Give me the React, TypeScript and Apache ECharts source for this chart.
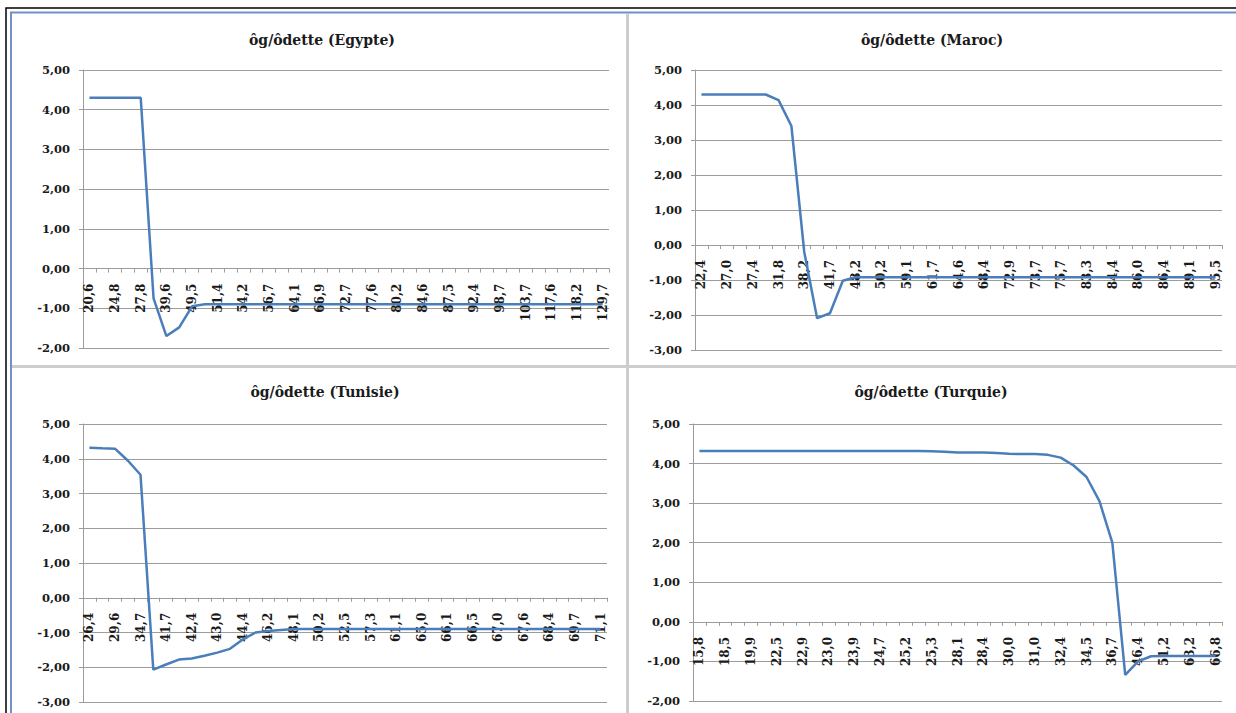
import React, { useEffect, useRef } from "react";
import * as echarts from "echarts";

// ---------- DATA ----------
const titles = [
  "ôg/ôdette (Egypte)",
  "ôg/ôdette (Maroc)",
  "ôg/ôdette (Tunisie)",
  "ôg/ôdette (Turquie)",
];

const egypteCats = [
  "20,6", "22,1", "24,8", "26,0", "27,8", "33,5", "39,6", "44,2", "49,5", "50,3",
  "51,4", "52,9", "54,2", "55,1", "56,7", "60,4", "64,1", "65,2", "66,9", "69,8",
  "72,7", "75,0", "77,6", "78,9", "80,2", "82,3", "84,6", "86,0", "87,5", "90,1",
  "92,4", "95,3", "98,7", "101,2", "103,7", "110,4", "117,6", "117,9", "118,2", "124,0",
  "129,7",
];
const egypteValues = [
  4.3, 4.3, 4.3, 4.3, 4.3, -0.75, -1.7, -1.48, -0.95, -0.9,
  -0.9, -0.9, -0.9, -0.9, -0.9, -0.9, -0.9, -0.9, -0.9, -0.9,
  -0.9, -0.9, -0.9, -0.9, -0.9, -0.9, -0.9, -0.9, -0.9, -0.9,
  -0.9, -0.9, -0.9, -0.9, -0.9, -0.9, -0.9, -0.9, -0.9, -0.9,
  -0.9,
];

const marocCats = [
  "22,4", "24,9", "27,0", "27,2", "27,4", "29,6", "31,8", "35,1", "38,2", "40,0",
  "41,7", "45,0", "48,2", "49,1", "50,2", "54,6", "59,1", "60,5", "61,7", "63,2",
  "64,6", "66,5", "68,4", "70,8", "72,9", "73,3", "73,7", "74,6", "75,7", "79,4",
  "83,3", "83,8", "84,4", "85,2", "86,0", "86,2", "86,4", "87,7", "89,1", "92,3",
  "95,5",
];
const marocValues = [
  4.3, 4.3, 4.3, 4.3, 4.3, 4.3, 4.14, 3.4, -0.2, -2.09,
  -1.95, -1.02, -0.92, -0.92, -0.92, -0.92, -0.92, -0.92, -0.92, -0.92,
  -0.92, -0.92, -0.92, -0.92, -0.92, -0.92, -0.92, -0.92, -0.92, -0.92,
  -0.92, -0.92, -0.92, -0.92, -0.92, -0.92, -0.92, -0.92, -0.92, -0.92,
  -0.92,
];

const tunisieCats = [
  "26,4", "28,0", "29,6", "32,2", "34,7", "38,3", "41,7", "42,0", "42,4", "42,7",
  "43,0", "43,7", "44,4", "45,3", "46,2", "47,1", "48,1", "49,1", "50,2", "51,4",
  "52,5", "54,9", "57,3", "59,2", "61,1", "63,0", "65,0", "65,6", "66,1", "66,3",
  "66,5", "66,8", "67,0", "67,3", "67,6", "68,0", "68,4", "69,0", "69,7", "70,4",
  "71,1",
];
const tunisieValues = [
  4.32, 4.3, 4.29, 3.95, 3.54, -2.07, -1.92, -1.78, -1.75, -1.67,
  -1.58, -1.47, -1.2, -1.0, -0.96, -0.93, -0.9, -0.9, -0.9, -0.9,
  -0.9, -0.9, -0.9, -0.9, -0.9, -0.9, -0.9, -0.9, -0.9, -0.9,
  -0.9, -0.9, -0.9, -0.9, -0.9, -0.9, -0.9, -0.9, -0.9, -0.9,
  -0.9,
];

const turquieCats = [
  "15,8", "17,1", "18,5", "19,2", "19,9", "21,2", "22,5", "22,7", "22,9", "22,95",
  "23,0", "23,4", "23,9", "24,3", "24,7", "25,0", "25,2", "25,25", "25,3", "26,7",
  "28,1", "28,3", "28,4", "29,2", "30,0", "30,5", "31,0", "31,7", "32,4", "33,4",
  "34,5", "35,6", "36,7", "41,5", "46,4", "48,8", "51,2", "57,2", "63,2", "65,0",
  "66,8",
];
const turquieValues = [
  4.32, 4.32, 4.32, 4.32, 4.32, 4.32, 4.32, 4.32, 4.32, 4.32,
  4.32, 4.32, 4.32, 4.32, 4.32, 4.32, 4.32, 4.32, 4.31, 4.3,
  4.28, 4.28, 4.28, 4.27, 4.25, 4.24, 4.24, 4.22, 4.15, 3.95,
  3.66, 3.05, 2.0, -1.34, -1.0, -0.87, -0.86, -0.86, -0.86, -0.86,
  -0.86,
];

const yMins = [-2, -3, -3, -2];
const yMaxs = [5, 5, 5, 5];

const allCats = [egypteCats, marocCats, tunisieCats, turquieCats];
const allValues = [egypteValues, marocValues, tunisieValues, turquieValues];

// ---------- LAYOUT / STYLE ----------
const grids = [
  { left: 83, top: 70, width: 526, height: 278 },
  { left: 695, top: 70, width: 527, height: 280 },
  { left: 83, top: 424, width: 524, height: 278 },
  { left: 693, top: 424, width: 529, height: 277 },
];
const titlePos = [
  [322, 40],
  [932, 40],
  [325, 392],
  [931, 392],
];

const FONT = '"DejaVu Serif", "Liberation Serif", serif';
const LINE_COLOR = "#4a7ebb";
const GRID_COLOR = "#9c9c9c";
const AXIS_COLOR = "#9c9c9c";
const TEXT_COLOR = "#1a1a1a";

function buildOption() {
  const xAxis = allCats.map((cats, i) => {
    const g = grids[i];
    const zeroFromBottom = ((0 - yMins[i]) / (yMaxs[i] - yMins[i])) * g.height;
    return {
      type: "category",
      gridIndex: i,
      position: "bottom",
      offset: -zeroFromBottom,
      data: cats,
      boundaryGap: true,
      axisLine: { show: true, onZero: false, lineStyle: { color: AXIS_COLOR, width: 1 } },
      axisTick: { show: true, interval: 0, length: 4, lineStyle: { color: AXIS_COLOR } },
      axisLabel: {
        interval: 1,
        rotate: 90,
        margin: 15,
        fontFamily: FONT,
        fontWeight: "bold",
        fontSize: 12,
        color: TEXT_COLOR,
      },
      splitLine: { show: false },
      z: 1,
    };
  });

  const yAxis = yMins.map((mn, i) => ({
    type: "value",
    gridIndex: i,
    min: mn,
    max: yMaxs[i],
    interval: 1,
    axisLine: { show: true, lineStyle: { color: AXIS_COLOR, width: 1 } },
    axisTick: { show: true, length: 4, lineStyle: { color: AXIS_COLOR } },
    axisLabel: {
      margin: 13,
      fontFamily: FONT,
      fontWeight: "bold",
      fontSize: 11.5,
      color: TEXT_COLOR,
      formatter: (v: number) => v.toFixed(2).replace(".", ","),
    },
    splitLine: { show: true, lineStyle: { color: GRID_COLOR, width: 1 } },
  }));

  const series = allValues.map((vals, i) => ({
    type: "line",
    xAxisIndex: i,
    yAxisIndex: i,
    data: vals,
    showSymbol: false,
    symbol: "none",
    lineStyle: { color: LINE_COLOR, width: 2.5 },
    itemStyle: { color: LINE_COLOR },
    z: 3,
  }));

  const graphic: any[] = [
    {
      type: "rect",
      shape: { x: 6, y: 8, width: 1240, height: 720 },
      style: { fill: "none", stroke: "#000", lineWidth: 1.5 },
      silent: true,
    },
    {
      type: "rect",
      shape: { x: 11, y: 12.5, width: 1240, height: 720 },
      style: { fill: "none", stroke: "#7090c8", lineWidth: 2 },
      silent: true,
    },
    {
      type: "line",
      shape: { x1: 627.5, y1: 14, x2: 627.5, y2: 713 },
      style: { stroke: "#cdcdcd", lineWidth: 3 },
      silent: true,
    },
    {
      type: "line",
      shape: { x1: 12, y1: 366.5, x2: 1236, y2: 366.5 },
      style: { stroke: "#cdcdcd", lineWidth: 3 },
      silent: true,
    },
  ];
  titles.forEach((t, i) => {
    graphic.push({
      type: "text",
      x: titlePos[i][0],
      y: titlePos[i][1],
      style: {
        text: t,
        font: `bold 14px ${FONT}`,
        fill: TEXT_COLOR,
        textAlign: "center",
        textVerticalAlign: "middle",
      },
      silent: true,
    });
  });

  return {
    animation: false,
    backgroundColor: "#ffffff",
    grid: grids.map((g) => ({ ...g, containLabel: false })),
    xAxis,
    yAxis,
    series,
    graphic,
  };
}

export default function App() {
  const ref = useRef<HTMLDivElement>(null);
  useEffect(() => {
    if (!ref.current) return;
    const chart = echarts.init(ref.current, undefined, { renderer: "svg" });
    chart.setOption(buildOption() as any);
    return () => chart.dispose();
  }, []);
  return (
    <div
      ref={ref}
      style={{ position: "absolute", left: 0, top: 0, width: 1236, height: 713, background: "#fff" }}
    />
  );
}
